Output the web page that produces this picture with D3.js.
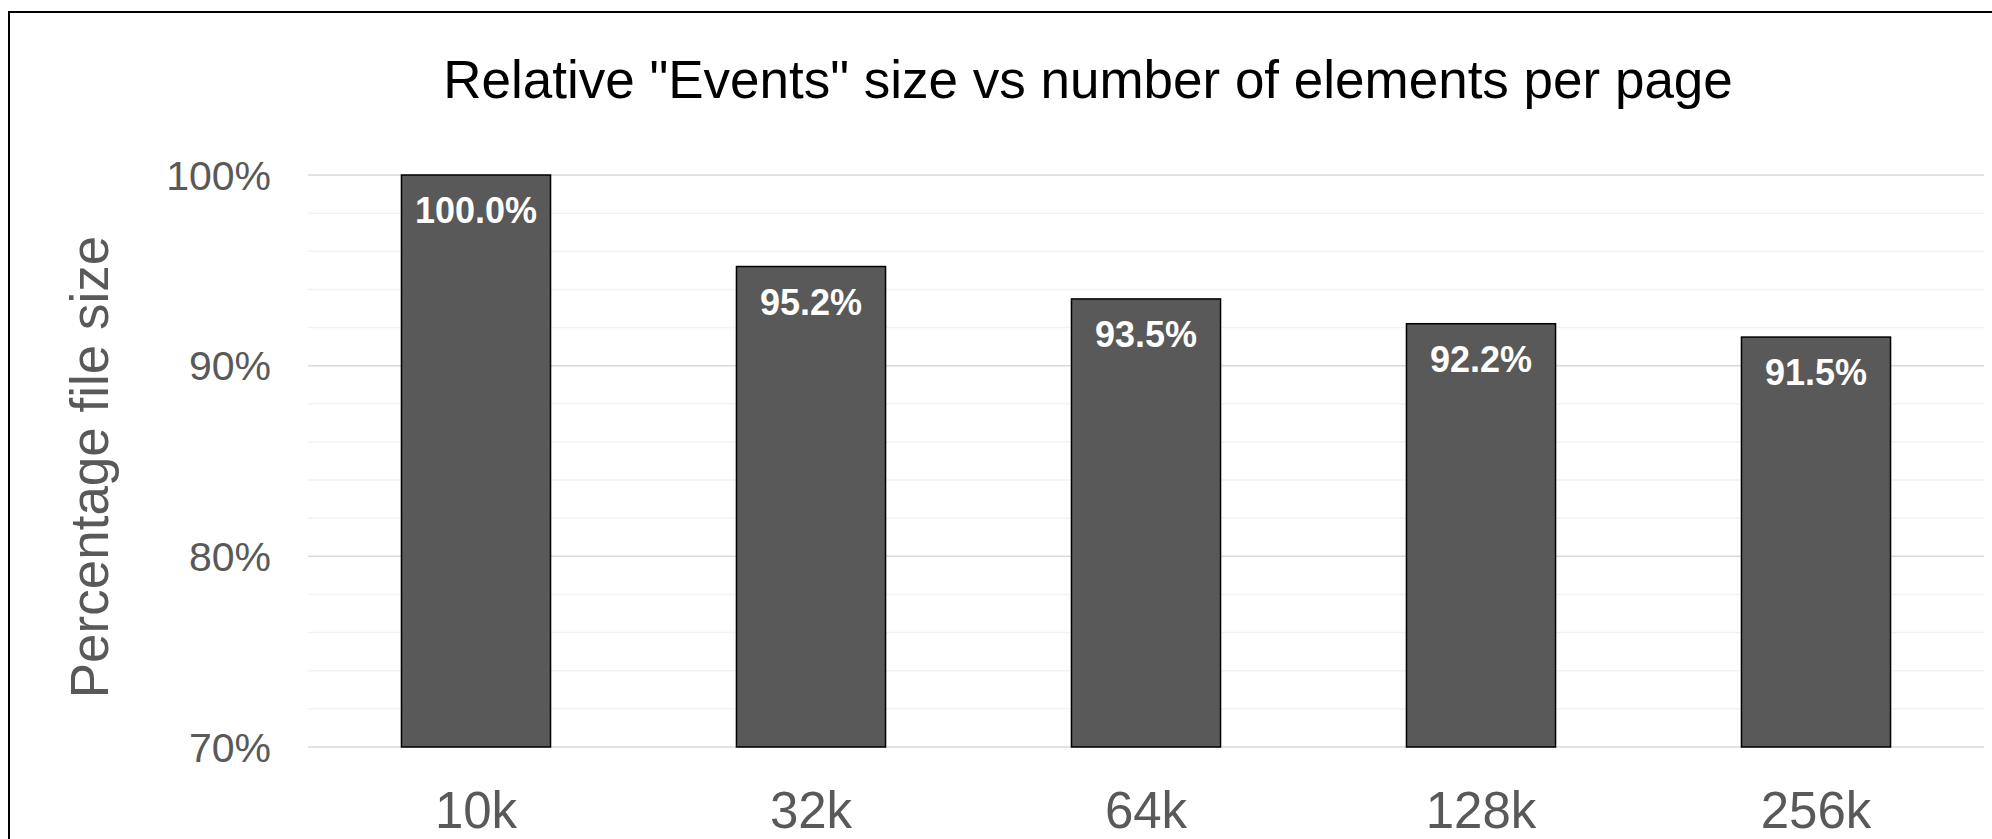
<!DOCTYPE html>
<html>
<head>
<meta charset="utf-8">
<script src="https://cdn.jsdelivr.net/npm/d3@7"></script>
<style>
  body { margin: 0; background: #fff; }
  svg { display: block; font-family: Arial, "Liberation Sans", sans-serif; }
</style>
</head>
<body>
<div id="chart"></div>
<script>
const categories = ["10k", "32k", "64k", "128k", "256k"];
const values = [100.0, 95.2, 93.5, 92.2, 91.5];
const majorTicks = [70, 80, 90, 100];
const minorTicks = [72, 74, 76, 78, 82, 84, 86, 88, 92, 94, 96, 98];

const W = 1992, H = 839;
const svg = d3.select("#chart").append("svg")
  .attr("width", W).attr("height", H);

// chart frame (cut off at right and bottom like the original)
svg.append("rect")
  .attr("x", 9).attr("y", 12)
  .attr("width", 2100).attr("height", 1000)
  .attr("fill", "#fff")
  .attr("stroke", "#000")
  .attr("stroke-width", 2);

const x = d3.scaleBand()
  .domain(categories)
  .range([308.5, 1983.5])
  .paddingInner(0.555)
  .paddingOuter(0.2775);

const y = d3.scaleLinear()
  .domain([70, 100])
  .range([747, 175]);

// minor gridlines
svg.append("g").selectAll("line")
  .data(minorTicks)
  .enter().append("line")
  .attr("x1", 308).attr("x2", 1984)
  .attr("y1", d => y(d)).attr("y2", d => y(d))
  .attr("stroke", "#f2f2f2")
  .attr("stroke-width", 1.5);

// major gridlines
svg.append("g").selectAll("line")
  .data(majorTicks)
  .enter().append("line")
  .attr("x1", 308).attr("x2", 1984)
  .attr("y1", d => y(d)).attr("y2", d => y(d))
  .attr("stroke", "#d9d9d9")
  .attr("stroke-width", 1.5);

// y tick labels
svg.append("g").selectAll("text")
  .data(majorTicks)
  .enter().append("text")
  .attr("x", 271)
  .attr("y", d => y(d) + 14.5)
  .attr("text-anchor", "end")
  .attr("font-size", 41)
  .attr("fill", "#595959")
  .text(d => d + "%");

// bars
svg.append("g").selectAll("rect")
  .data(values)
  .enter().append("rect")
  .attr("x", (d, i) => x(categories[i]))
  .attr("y", d => y(d))
  .attr("width", x.bandwidth())
  .attr("height", d => y(70) - y(d))
  .attr("fill", "#595959")
  .attr("stroke", "#000")
  .attr("stroke-width", 1.5);

// value labels inside bars
svg.append("g").selectAll("text")
  .data(values)
  .enter().append("text")
  .attr("x", (d, i) => x(categories[i]) + x.bandwidth() / 2)
  .attr("y", d => y(d) + 48)
  .attr("text-anchor", "middle")
  .attr("font-size", 36)
  .attr("font-weight", "bold")
  .attr("fill", "#fff")
  .text(d => d.toFixed(1) + "%");

// x labels
svg.append("g").selectAll("text")
  .data(categories)
  .enter().append("text")
  .attr("x", d => x(d) + x.bandwidth() / 2)
  .attr("y", 828)
  .attr("text-anchor", "middle")
  .attr("font-size", 51)
  .attr("fill", "#595959")
  .text(d => d);

// axis title
svg.append("text")
  .attr("transform", "translate(108,467) rotate(-90)")
  .attr("text-anchor", "middle")
  .attr("font-size", 53)
  .attr("fill", "#595959")
  .text("Percentage file size");

// chart title
svg.append("text")
  .attr("x", 1088)
  .attr("y", 98)
  .attr("text-anchor", "middle")
  .attr("font-size", 53)
  .attr("fill", "#000")
  .text('Relative "Events" size vs number of elements per page');
</script>
</body>
</html>
